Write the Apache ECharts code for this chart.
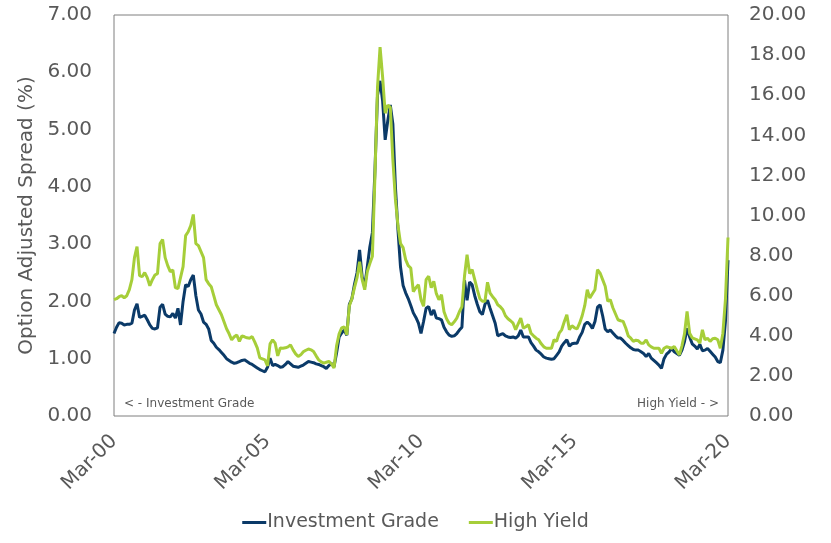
<!DOCTYPE html>
<html>
<head>
<meta charset="utf-8">
<script src="https://cdn.jsdelivr.net/npm/echarts@6/dist/echarts.min.js"></script>
<style>html,body{margin:0;padding:0;background:#fff;}#c{width:831px;height:543px;}</style>
</head>
<body>
<div id="c"></div>
<script>
// Monthly, Mar-2000 .. Mar-2020
const monthNames = ['Jan','Feb','Mar','Apr','May','Jun','Jul','Aug','Sep','Oct','Nov','Dec'];
const categories = [];
for (let k = 0; k <= 240; k++) {
  const m = (2 + k) % 12;
  const y = Math.floor((2 + k) / 12);
  categories.push(monthNames[m] + '-' + String(y).padStart(2, '0'));
}

const investmentGrade = [
1.44,1.55,1.63,1.62,1.59,1.60,1.60,1.62,1.85,1.96,1.72,1.74,1.76,1.68,1.59,1.53,1.52,1.54,1.90,1.95,
1.78,1.74,1.73,1.79,1.71,1.88,1.59,2.00,2.29,2.26,2.38,2.46,2.10,1.85,1.78,1.64,1.60,1.52,1.32,1.27,
1.20,1.16,1.11,1.06,1.00,0.97,0.94,0.92,0.93,0.95,0.97,0.98,0.95,0.92,0.90,0.87,0.84,0.81,0.79,0.77,
0.85,1.01,0.88,0.90,0.88,0.85,0.86,0.90,0.95,0.91,0.87,0.86,0.85,0.87,0.89,0.92,0.95,0.94,0.93,0.91,
0.90,0.88,0.86,0.83,0.88,0.92,0.86,1.10,1.38,1.45,1.50,1.41,1.95,2.05,2.30,2.50,2.90,2.43,2.26,2.60,
2.95,3.20,4.29,5.60,5.85,5.50,4.82,5.15,5.43,5.10,4.00,3.25,2.60,2.28,2.15,2.05,1.93,1.80,1.72,1.62,
1.44,1.65,1.88,1.91,1.76,1.85,1.71,1.70,1.68,1.55,1.47,1.41,1.39,1.40,1.44,1.50,1.55,2.37,2.02,2.34,
2.29,2.10,1.95,1.82,1.77,1.95,2.02,1.88,1.75,1.62,1.40,1.42,1.44,1.40,1.38,1.37,1.38,1.36,1.40,1.50,
1.38,1.38,1.38,1.28,1.22,1.15,1.12,1.08,1.03,1.01,1.00,0.99,1.00,1.06,1.12,1.22,1.28,1.33,1.22,1.26,
1.27,1.27,1.38,1.46,1.60,1.64,1.60,1.53,1.65,1.90,1.94,1.75,1.52,1.47,1.50,1.45,1.40,1.36,1.36,1.32,
1.27,1.23,1.19,1.16,1.15,1.15,1.12,1.09,1.04,1.09,1.01,0.97,0.93,0.89,0.83,1.00,1.08,1.12,1.18,1.12,
1.09,1.06,1.15,1.30,1.53,1.38,1.26,1.22,1.17,1.25,1.14,1.15,1.18,1.13,1.08,1.03,0.95,0.93,1.15,1.65,
2.72
];

const highYield = [
5.80,5.85,5.95,6.00,5.90,6.00,6.30,6.80,7.90,8.45,7.00,6.95,7.15,6.90,6.50,6.80,7.03,7.10,8.60,8.80,
7.90,7.50,7.20,7.28,6.40,6.35,6.90,7.45,9.00,9.19,9.50,10.05,8.60,8.50,8.20,7.90,6.80,6.60,6.45,6.00,
5.55,5.30,5.05,4.70,4.35,4.10,3.80,3.95,4.04,3.72,3.99,3.95,3.90,3.88,3.96,3.70,3.40,2.90,2.85,2.80,
2.50,3.60,3.80,3.63,3.00,3.39,3.38,3.40,3.45,3.55,3.30,3.10,2.97,3.05,3.20,3.28,3.34,3.30,3.22,3.00,
2.80,2.70,2.64,2.68,2.72,2.60,2.39,3.50,4.10,4.40,4.45,4.05,5.50,5.85,6.40,6.90,7.70,6.80,6.30,7.20,
7.60,7.97,12.00,16.40,18.40,16.90,15.10,15.50,15.40,12.80,10.80,9.50,8.60,8.40,7.80,7.50,7.38,6.20,6.40,6.55,
5.80,5.47,6.80,6.97,6.40,6.72,6.10,5.80,6.05,5.20,4.85,4.63,4.55,4.70,4.88,5.20,5.45,6.97,8.05,7.10,
7.30,6.80,6.30,5.85,5.72,5.72,6.67,6.13,5.95,5.80,5.55,5.45,5.30,5.00,4.85,4.75,4.63,4.30,4.60,4.88,
4.38,4.45,4.55,4.13,4.00,3.88,3.80,3.60,3.45,3.38,3.38,3.38,3.80,3.72,4.13,4.30,4.70,5.05,4.30,4.50,
4.40,4.35,4.63,5.00,5.50,6.30,5.88,6.10,6.30,7.30,7.13,6.80,6.47,5.72,5.80,5.40,5.10,4.80,4.75,4.72,
4.40,4.00,3.88,3.72,3.78,3.75,3.63,3.63,3.80,3.55,3.45,3.38,3.38,3.38,3.13,3.38,3.45,3.42,3.38,3.47,
3.25,3.05,3.50,4.10,5.22,4.13,3.90,3.85,3.80,3.63,4.30,3.80,3.88,3.72,3.85,3.88,3.80,3.38,4.13,5.80,
8.90
];

const seriesNames = ['Investment Grade', 'High Yield'];
const leftTicks = { min: 0, max: 7, interval: 1 };
const rightTicks = { min: 0, max: 20, interval: 2 };

const FONT = 'DejaVu Sans';
const GREY = '#595959';
const chart = echarts.init(document.getElementById('c'), null, { renderer: 'canvas' });
chart.setOption({
  animation: false,
  backgroundColor: '#ffffff',
  grid: { left: 114, right: 103, top: 15, bottom: 127, show: true, borderColor: '#7f7f7f', borderWidth: 1, backgroundColor: 'transparent' },
  legend: {
    data: seriesNames,
    bottom: 6,
    left: 'center',
    icon: 'rect',
    itemWidth: 24,
    itemHeight: 3,
    itemGap: 30,
    textStyle: { fontFamily: FONT, fontSize: 19, color: GREY, padding: [0, 0, 0, -4] }
  },
  xAxis: {
    type: 'category',
    data: categories,
    boundaryGap: false,
    axisLine: { show: false },
    axisTick: { show: false },
    splitLine: { show: false },
    axisLabel: {
      interval: 59,
      rotate: 45,
      margin: 22,
      fontFamily: FONT,
      fontSize: 20,
      color: GREY,
      showMaxLabel: true
    }
  },
  yAxis: [
    {
      type: 'value', position: 'left', min: leftTicks.min, max: leftTicks.max, interval: leftTicks.interval,
      name: 'Option Adjusted Spread (%)', nameLocation: 'middle', nameGap: 76,
      nameTextStyle: { fontFamily: FONT, fontSize: 20, color: GREY },
      axisLine: { show: false }, axisTick: { show: false }, splitLine: { show: false },
      axisLabel: { margin: 22, fontFamily: FONT, fontSize: 20, color: GREY, formatter: v => v.toFixed(2) }
    },
    {
      type: 'value', position: 'right', min: rightTicks.min, max: rightTicks.max, interval: rightTicks.interval,
      axisLine: { show: false }, axisTick: { show: false }, splitLine: { show: false },
      axisLabel: { margin: 21, fontFamily: FONT, fontSize: 20, color: GREY, formatter: v => v.toFixed(2) }
    }
  ],
  graphic: [
    { type: 'text', left: 124, top: 398, style: { text: '< - Investment Grade', fontFamily: FONT, fontSize: 12, fill: GREY } },
    { type: 'text', right: 112, top: 398, style: { text: 'High Yield - >', fontFamily: FONT, fontSize: 12, fill: GREY } }
  ],
  series: [
    {
      name: seriesNames[0], type: 'line', yAxisIndex: 0, data: investmentGrade,
      symbol: 'none', lineStyle: { color: '#0b3a68', width: 3 }, itemStyle: { color: '#0b3a68' }, z: 2
    },
    {
      name: seriesNames[1], type: 'line', yAxisIndex: 1, data: highYield,
      symbol: 'none', lineStyle: { color: '#a6ce39', width: 3 }, itemStyle: { color: '#a6ce39' }, z: 3
    }
  ]
});
</script>
</body>
</html>
